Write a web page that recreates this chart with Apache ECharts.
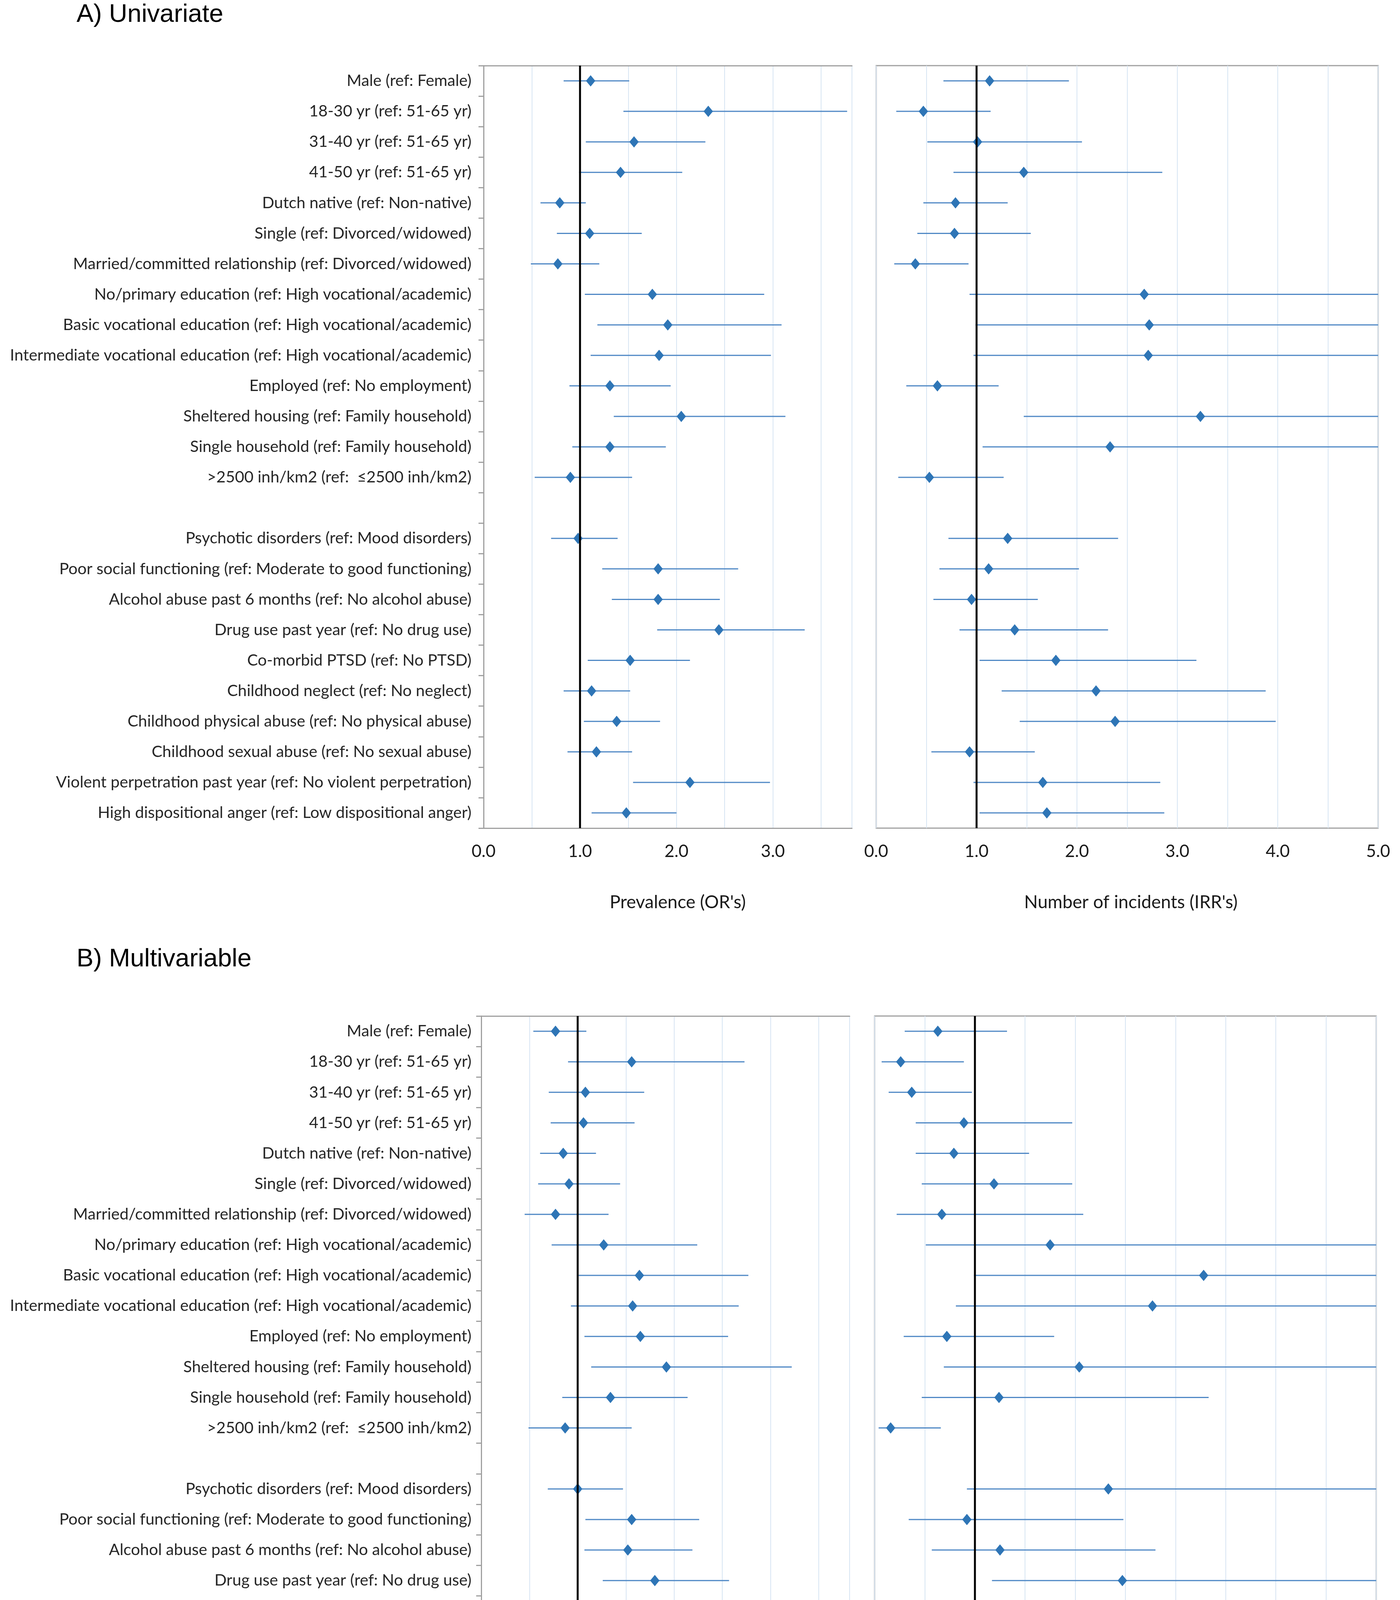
<!DOCTYPE html>
<html>
<head>
<meta charset="utf-8">
<script src="https://cdn.jsdelivr.net/npm/echarts@6/dist/echarts.min.js"></script>
<style>
html,body{margin:0;padding:0;background:#fff;}
#chart{width:3584px;height:4785px;}
</style>
</head>
<body>
<div id="chart"></div>
<script>
// ---------- DATA ----------
const categories = [
  "Male (ref: Female)",
  "18-30 yr (ref: 51-65 yr)",
  "31-40 yr (ref: 51-65 yr)",
  "41-50 yr (ref: 51-65 yr)",
  "Dutch native (ref: Non-native)",
  "Single (ref: Divorced/widowed)",
  "Married/committed relationship (ref: Divorced/widowed)",
  "No/primary education (ref: High vocational/academic)",
  "Basic vocational education (ref: High vocational/academic)",
  "Intermediate vocational education (ref: High vocational/academic)",
  "Employed (ref: No employment)",
  "Sheltered housing (ref: Family household)",
  "Single household (ref: Family household)",
  ">2500 inh/km2 (ref:  \u22642500 inh/km2)",
  "",
  "Psychotic disorders (ref: Mood disorders)",
  "Poor social functioning (ref: Moderate to good functioning)",
  "Alcohol abuse past 6 months (ref: No alcohol abuse)",
  "Drug use past year (ref: No drug use)",
  "Co-morbid PTSD (ref: No PTSD)",
  "Childhood neglect (ref: No neglect)",
  "Childhood physical abuse (ref: No physical abuse)",
  "Childhood sexual abuse (ref: No sexual abuse)",
  "Violent perpetration past year (ref: No violent perpetration)",
  "High dispositional anger (ref: Low dispositional anger)"
];

// A) Univariate - Prevalence (OR's)
const uniOR_est = [1.11,2.33,1.56,1.42,0.79,1.10,0.77,1.75,1.91,1.82,1.31,2.05,1.31,0.90,null,0.98,1.81,1.81,2.44,1.52,1.12,1.38,1.17,2.14,1.48];
const uniOR_lo  = [0.83,1.45,1.06,0.99,0.59,0.76,0.49,1.05,1.18,1.11,0.89,1.35,0.92,0.53,null,0.70,1.23,1.33,1.80,1.08,0.83,1.04,0.87,1.55,1.12];
const uniOR_hi  = [1.51,3.77,2.30,2.06,1.06,1.64,1.20,2.91,3.09,2.98,1.94,3.13,1.89,1.54,null,1.39,2.64,2.45,3.33,2.14,1.52,1.83,1.54,2.97,2.00];

// A) Univariate - Number of incidents (IRR's)
const uniIRR_est = [1.13,0.47,1.01,1.47,0.79,0.78,0.39,2.67,2.72,2.71,0.61,3.23,2.33,0.53,null,1.31,1.12,0.95,1.38,1.79,2.19,2.38,0.93,1.66,1.70];
const uniIRR_lo  = [0.67,0.20,0.51,0.77,0.47,0.41,0.18,0.93,0.99,0.97,0.30,1.47,1.06,0.22,null,0.72,0.63,0.57,0.83,1.03,1.25,1.43,0.55,0.97,1.03];
const uniIRR_hi  = [1.92,1.14,2.05,2.85,1.31,1.54,0.92,5.00,5.00,5.00,1.22,5.00,5.00,1.27,null,2.41,2.02,1.61,2.31,3.19,3.88,3.98,1.58,2.83,2.87];

// B) Multivariable - Prevalence (OR's)
const mulOR_est = [0.77,1.56,1.08,1.06,0.85,0.91,0.77,1.27,1.64,1.57,1.65,1.92,1.34,0.87,null,1.00,1.56,1.52,1.80,1.36,1.04,1.13,0.99,1.60,1.27];
const mulOR_lo  = [0.54,0.90,0.70,0.72,0.61,0.59,0.45,0.73,1.01,0.93,1.07,1.14,0.84,0.49,null,0.69,1.08,1.07,1.26,0.92,0.74,0.82,0.71,1.11,0.93];
const mulOR_hi  = [1.09,2.73,1.69,1.59,1.19,1.44,1.32,2.24,2.77,2.67,2.56,3.22,2.14,1.56,null,1.47,2.26,2.19,2.57,2.03,1.46,1.58,1.42,2.31,2.03];

// B) Multivariable - Number of incidents (IRR's)
const mulIRR_est = [0.63,0.26,0.37,0.89,0.79,1.19,0.67,1.75,3.28,2.77,0.72,2.04,1.24,0.16,null,2.33,0.92,1.25,2.47,1.86,1.85,2.35,0.61,1.42,1.97];
const mulIRR_lo  = [0.30,0.07,0.14,0.41,0.41,0.47,0.22,0.51,0.99,0.81,0.29,0.69,0.47,0.04,null,0.92,0.34,0.57,1.17,0.80,0.88,1.07,0.29,0.71,0.92];
const mulIRR_hi  = [1.32,0.89,0.97,1.97,1.54,1.97,2.08,5.00,5.00,5.00,1.79,5.00,3.33,0.66,null,5.00,2.48,2.80,5.00,4.32,3.86,5.00,1.25,2.88,4.30];

const orTicks  = ["0.0","1.0","2.0","3.0"];
const irrTicks = ["0.0","1.0","2.0","3.0","4.0","5.0"];

// ---------- STYLE ----------
const LABEL_FONT = 'Lato';
const BAR_COLOR = '#4f88c5';
const PT_COLOR = '#2e75b6';
const GRID_COLOR = '#d7e5f3';
const FRAME = '#a0a0a0';

const panels = [
  {grid:{left:1238, top:168, width:943, height:1952}, max:3.82, lo:uniOR_lo, hi:uniOR_hi, est:uniOR_est, left:true, ticks:orTicks, margin:31},
  {grid:{left:2243, top:168, width:1285, height:1952}, max:5, lo:uniIRR_lo, hi:uniIRR_hi, est:uniIRR_est, left:false, ticks:irrTicks},
  {grid:{left:1232, top:2601, width:943, height:1953}, max:3.82, lo:mulOR_lo, hi:mulOR_hi, est:mulOR_est, left:true, ticks:orTicks, margin:25},
  {grid:{left:2239, top:2601, width:1284, height:1953}, max:5, lo:mulIRR_lo, hi:mulIRR_hi, est:mulIRR_est, left:false, ticks:irrTicks}
];

const grids = [], xAxes = [], yAxes = [], series = [];

panels.forEach((p, i) => {
  grids.push(Object.assign({
    show: !p.left,
    borderColor: FRAME,
    borderWidth: 3,
    backgroundColor: 'transparent',
    containLabel: false
  }, p.grid));

  xAxes.push({
    type: 'value', gridIndex: i, min: 0, max: p.max, interval: 0.5,
    axisLine: {show: p.left, lineStyle: {color: FRAME, width: 3}},
    axisTick: {show: false},
    splitLine: {show: true, lineStyle: {color: GRID_COLOR, width: 2}},
    axisLabel: {
      show: true, showMaxLabel: p.left ? false : true, margin: 38,
      fontFamily: LABEL_FONT, fontSize: 44, color: '#1a1a1a',
      formatter: (v) => {
        const idx = p.ticks.indexOf(Number(v).toFixed(1));
        return (Math.abs(v - Math.round(v)) < 1e-6 && idx >= 0) ? p.ticks[idx] : '';
      }
    }
  });
  if (p.left) {
    // top border line of the left plots
    xAxes.push({
      type: 'value', gridIndex: i, min: 0, max: p.max, position: 'top',
      axisLine: {show: true, lineStyle: {color: FRAME, width: 3}},
      axisTick: {show: false}, axisLabel: {show: false}, splitLine: {show: false}
    });
  }

  yAxes.push({
    type: 'category', gridIndex: i, data: categories, inverse: true,
    axisLine: {show: p.left, lineStyle: {color: FRAME, width: 3}},
    axisTick: {show: p.left, length: 13, lineStyle: {color: FRAME, width: 3}},
    axisLabel: {show: p.left, margin: p.margin || 30, fontFamily: LABEL_FONT, fontSize: 41, color: '#262626'},
    splitLine: {show: false}
  });
});

// map x axis index (left panels have an extra top axis)
const xIdx = [];
{ let k = 0; panels.forEach((p) => { xIdx.push(k); k += p.left ? 2 : 1; }); }

panels.forEach((p, i) => {
  const ciData = [], ptData = [];
  categories.forEach((c, k) => {
    if (p.lo[k] != null) ciData.push([p.lo[k], p.hi[k], k]);
    if (p.est[k] != null) ptData.push([p.est[k], k]);
  });

  series.push({
    type: 'custom', xAxisIndex: xIdx[i], yAxisIndex: i, z: 2, clip: true,
    data: ciData,
    encode: {x: [0, 1], y: 2},
    renderItem: (params, api) => {
      const a = api.coord([api.value(0), api.value(2)]);
      const b = api.coord([api.value(1), api.value(2)]);
      return {type: 'line', shape: {x1: a[0], y1: a[1], x2: b[0], y2: b[1]},
              style: {stroke: BAR_COLOR, lineWidth: 3}};
    }
  });

  series.push({
    type: 'scatter', xAxisIndex: xIdx[i], yAxisIndex: i, z: 3,
    symbol: 'diamond', symbolSize: [24, 29],
    itemStyle: {color: PT_COLOR, opacity: 1},
    data: ptData,
    encode: {x: 0, y: 1}
  });

  // reference line at 1.0
  series.push({
    type: 'custom', xAxisIndex: xIdx[i], yAxisIndex: i, z: 5,
    data: [[1, 0]],
    encode: {x: 0, y: 1},
    renderItem: (params, api) => {
      const cs = params.coordSys;
      const pt = api.coord([api.value(0), 0]);
      return {type: 'line', shape: {x1: pt[0], y1: cs.y, x2: pt[0], y2: cs.y + cs.height},
              style: {stroke: '#000', lineWidth: 5}};
    }
  });
});

const graphic = [
  {type:'text', left:196, top:6, style:{text:'A) Univariate', font:'65px "Liberation Sans"', fill:'#000'}},
  {type:'text', left:196, top:2424, style:{text:'B) Multivariable', font:'65px "Liberation Sans"', fill:'#000'}},
  {type:'text', x:1735, y:2310, style:{text:"Prevalence (OR's)", font:'46px Lato', fill:'#1a1a1a', align:'center', verticalAlign:'middle'}},
  {type:'text', x:2895, y:2310, style:{text:"Number of incidents (IRR's)", font:'46px Lato', fill:'#1a1a1a', align:'center', verticalAlign:'middle'}},
  {type:'text', x:1731, y:4757, style:{text:"Prevalence (OR's)", font:'46px Lato', fill:'#1a1a1a', align:'center', verticalAlign:'middle'}},
  {type:'text', x:2888, y:4742, style:{text:"Number of incidents (IRR's)", font:'46px Lato', fill:'#1a1a1a', align:'center', verticalAlign:'middle'}}
];

const chart = echarts.init(document.getElementById('chart'), null, {renderer: 'canvas'});
chart.setOption({
  animation: false,
  backgroundColor: '#ffffff',
  grid: grids,
  xAxis: xAxes,
  yAxis: yAxes,
  series: series,
  graphic: graphic
});
</script>
</body>
</html>
